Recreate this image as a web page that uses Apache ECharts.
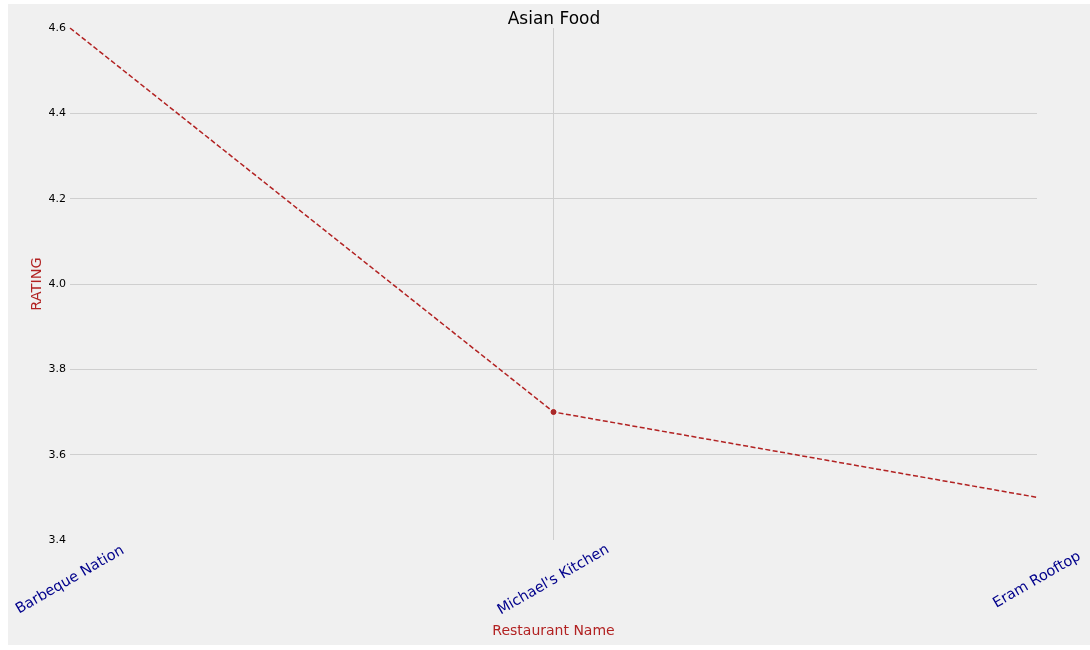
<!DOCTYPE html>
<html>
<head>
<meta charset="utf-8">
<script src="https://cdn.jsdelivr.net/npm/echarts@6/dist/echarts.min.js"></script>
<style>
  html, body { margin: 0; padding: 0; background: #ffffff; }
  #main { position: absolute; left: 8px; top: 4px; width: 1082px; height: 641px; background: #f0f0f0; }
</style>
</head>
<body>
<div id="main"></div>
<script>
var restaurants = ['Barbeque Nation', "Michael's Kitchen", 'Eram Rooftop'];
var ratings = [4.6, 3.7, 3.5];

var font = 'DejaVu Sans';
var lastIndex = restaurants.length - 1;

var option = {
    animation: false,
    title: {
        text: 'Asian Food',
        left: 541,
        top: 2,
        textAlign: 'center',
        textStyle: { fontFamily: font, fontSize: 17, fontWeight: 'normal', color: '#000' }
    },
    grid: { left: 62, right: 53, top: 24, bottom: 105, containLabel: false },
    xAxis: {
        type: 'category',
        data: restaurants,
        boundaryGap: false,
        name: 'Restaurant Name',
        nameLocation: 'middle',
        nameGap: 84,
        nameMoveOverlap: false,
        nameTextStyle: { fontFamily: font, fontSize: 14, color: '#b22222' },
        axisLine: { show: false },
        axisTick: { show: false },
        axisLabel: {
            rotate: 30,
            align: 'center',
            verticalAlign: 'middle',
            margin: 40,
            fontFamily: font,
            fontSize: 14.5,
            color: '#00008b'
        },
        splitLine: {
            show: true,
            interval: function (index) { return index > 0 && index < lastIndex; },
            lineStyle: { color: '#cfcfcf', width: 1 }
        }
    },
    yAxis: {
        type: 'value',
        min: 3.4,
        max: 4.6,
        interval: 0.2,
        name: 'RATING',
        nameLocation: 'middle',
        nameGap: 25,
        nameMoveOverlap: false,
        nameTextStyle: { fontFamily: font, fontSize: 14.5, color: '#b22222' },
        axisLine: { show: false },
        axisTick: { show: false },
        axisLabel: {
            margin: 4,
            fontFamily: font,
            fontSize: 11,
            color: '#000',
            formatter: function (v) { return v.toFixed(1); }
        },
        splitLine: {
            show: true,
            showMinLine: false,
            showMaxLine: false,
            lineStyle: { color: '#cfcfcf', width: 1 }
        }
    },
    series: [
        {
            type: 'line',
            data: ratings,
            symbol: 'circle',
            symbolSize: function (v, params) {
                return (params.dataIndex > 0 && params.dataIndex < lastIndex) ? 5 : 0;
            },
            itemStyle: { color: '#a52a2a', borderColor: '#b22222', borderWidth: 1 },
            lineStyle: { color: '#b22222', width: 1.5, type: [5, 2.5] }
        }
    ]
};

var myChart = echarts.init(document.getElementById('main'));
myChart.setOption(option);
</script>
</body>
</html>
